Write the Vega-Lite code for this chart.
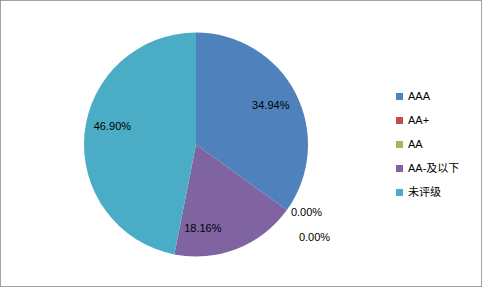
{
  "$schema": "https://vega.github.io/schema/vega-lite/v6.json",
  "width": 482,
  "height": 287,
  "autosize": "none",
  "padding": 0,
  "background": "white",
  "config": {
    "view": {"stroke": null},
    "font": "Liberation Sans, Noto Sans CJK SC, sans-serif",
    "text": {"font": "Liberation Sans, Noto Sans CJK SC, sans-serif"}
  },
  "data": {
    "values": [
      {"rating": "AAA", "value": 0.3494, "o": 1},
      {"rating": "AA+", "value": 0.0, "o": 2},
      {"rating": "AA", "value": 0.0, "o": 3},
      {"rating": "AA-及以下", "value": 0.1816, "o": 4},
      {"rating": "未评级", "value": 0.469, "o": 5}
    ]
  },
  "layer": [
    {
      "data": {"values": [{"x0": 0, "x1": 1, "y0": 0, "y1": 1}]},
      "mark": {"type": "rect", "fill": null, "stroke": "#858585", "strokeWidth": 1.5},
      "encoding": {
        "x": {"field": "x0", "type": "quantitative", "scale": {"domain": [0, 1], "nice": false, "zero": false}, "axis": null},
        "x2": {"field": "x1"},
        "y": {"field": "y0", "type": "quantitative", "scale": {"domain": [0, 1], "nice": false, "zero": false}, "axis": null},
        "y2": {"field": "y1"}
      }
    },
    {
      "mark": {"type": "arc", "x": 196, "y": 144.5, "outerRadius": 112},
      "encoding": {
        "theta": {"field": "value", "type": "quantitative", "stack": true},
        "order": {"field": "o", "type": "quantitative"},
        "color": {
          "field": "rating",
          "type": "nominal",
          "scale": {
            "domain": ["AAA", "AA+", "AA", "AA-及以下", "未评级"],
            "range": ["#4F81BD", "#C0504D", "#9BBB59", "#8064A2", "#4BACC6"]
          },
          "legend": {
            "title": null,
            "orient": "none",
            "legendX": 394,
            "legendY": 91,
            "symbolType": "square",
            "symbolSize": 50,
            "symbolStrokeWidth": 0,
            "labelFontSize": 11,
            "labelColor": "#000000",
            "labelFont": "Liberation Sans, Noto Sans CJK SC, sans-serif",
            "labelOffset": 3,
            "rowPadding": 12
          }
        }
      }
    },
    {
      "mark": {"type": "text", "x": 196, "y": 144.5, "radius": 84, "fontSize": 11, "color": "#000000"},
      "encoding": {
        "theta": {"field": "value", "type": "quantitative", "stack": true},
        "order": {"field": "o", "type": "quantitative"},
        "text": {"condition": {"test": "datum.rating == 'AAA'", "field": "value", "type": "quantitative", "format": ".2%"}, "value": ""}
      }
    },
    {
      "mark": {"type": "text", "x": 196, "y": 144.5, "radius": 84, "dx": -24, "dy": 6, "fontSize": 11, "color": "#000000"},
      "encoding": {
        "theta": {"field": "value", "type": "quantitative", "stack": true},
        "order": {"field": "o", "type": "quantitative"},
        "text": {"condition": {"test": "datum.rating == 'AA-及以下'", "field": "value", "type": "quantitative", "format": ".2%"}, "value": ""}
      }
    },
    {
      "mark": {"type": "text", "x": 196, "y": 144.5, "radius": 84, "dy": -9, "fontSize": 11, "color": "#000000"},
      "encoding": {
        "theta": {"field": "value", "type": "quantitative", "stack": true},
        "order": {"field": "o", "type": "quantitative"},
        "text": {"condition": {"test": "datum.rating == '未评级'", "field": "value", "type": "quantitative", "format": ".2%"}, "value": ""}
      }
    },
    {
      "mark": {"type": "text", "x": 196, "y": 144.5, "radius": 117, "align": "left", "fontSize": 11, "color": "#000000"},
      "encoding": {
        "theta": {"field": "value", "type": "quantitative", "stack": true},
        "order": {"field": "o", "type": "quantitative"},
        "text": {"condition": {"test": "datum.rating == 'AA+'", "field": "value", "type": "quantitative", "format": ".2%"}, "value": ""}
      }
    },
    {
      "mark": {"type": "text", "x": 196, "y": 144.5, "radius": 117, "align": "left", "dx": 8, "dy": 25, "fontSize": 11, "color": "#000000"},
      "encoding": {
        "theta": {"field": "value", "type": "quantitative", "stack": true},
        "order": {"field": "o", "type": "quantitative"},
        "text": {"condition": {"test": "datum.rating == 'AA'", "field": "value", "type": "quantitative", "format": ".2%"}, "value": ""}
      }
    }
  ]
}
